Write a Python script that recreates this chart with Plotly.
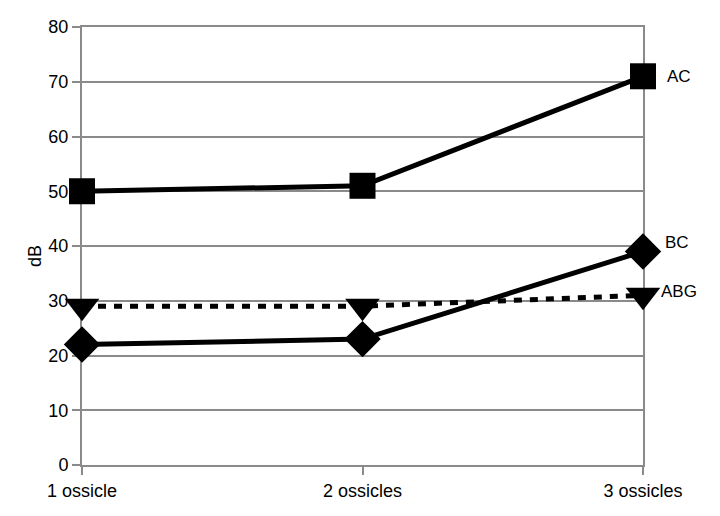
import plotly.graph_objects as go

categories = ["1 ossicle", "2 ossicles", "3 ossicles"]
ac = [50, 51, 71]
bc = [22, 23, 39]
abg = [29, 29, 31]
y_ticks = [0, 10, 20, 30, 40, 50, 60, 70, 80]

xpos = list(range(len(categories)))
grid = "#8a8a8a"
font = "Liberation Sans, Arial, sans-serif"

fig = go.Figure()

fig.add_trace(go.Scatter(x=xpos, y=abg, name="ABG", mode="lines+markers", cliponaxis=False,
    line=dict(color="black", width=5, dash="8px,8px"),
    marker=dict(symbol="triangle-down", size=30, color="black")))
fig.add_trace(go.Scatter(x=xpos, y=bc, name="BC", mode="lines+markers", cliponaxis=False,
    line=dict(color="black", width=5),
    marker=dict(symbol="diamond", size=28, color="black")))
fig.add_trace(go.Scatter(x=xpos, y=ac, name="AC", mode="lines+markers", cliponaxis=False,
    line=dict(color="black", width=5),
    marker=dict(symbol="square", size=26, color="black")))

# series labels on the right
for name, vals, dx, dy in [("AC", ac, 22, 0), ("BC", bc, 20, 9), ("ABG", abg, 16, 4)]:
    fig.add_annotation(x=xpos[-1], y=vals[-1], text=name, showarrow=False,
                       xanchor="left", xshift=dx, yshift=dy,
                       font=dict(family=font, size=17, color="black"))

# y axis title
fig.add_annotation(xref="paper", yref="paper", x=0, y=0.5, xanchor="center", yanchor="middle",
                   xshift=-47, yshift=-10, text="dB", textangle=-90, showarrow=False,
                   font=dict(family=font, size=18, color="black"))

fig.update_layout(
    width=720, height=516,
    margin=dict(l=74, r=85, t=19, b=59),
    plot_bgcolor="white", paper_bgcolor="white",
    showlegend=False,
    font=dict(family=font, size=18, color="black"),
)
fig.update_xaxes(range=[0, 2], tickvals=xpos, ticktext=categories, automargin=False,
                 showgrid=False, zeroline=False, layer="below traces",
                 showline=True, linecolor=grid, linewidth=2, mirror=True,
                 ticks="outside", ticklen=8, tickcolor=grid, tickwidth=2)
fig.update_yaxes(range=[0, 80], tickvals=y_ticks, automargin=False,
                 showgrid=True, gridcolor=grid, gridwidth=2, zeroline=False,
                 layer="below traces",
                 showline=True, linecolor=grid, linewidth=2, mirror=True,
                 ticks="outside", ticklen=8, tickcolor=grid, tickwidth=2)

fig.write_html("out.html")
